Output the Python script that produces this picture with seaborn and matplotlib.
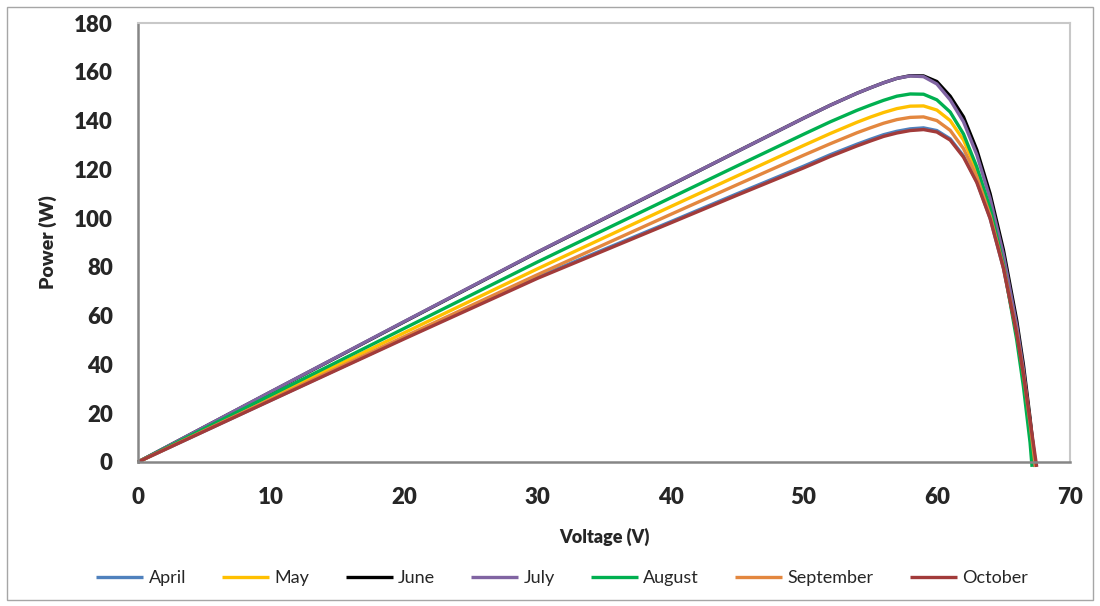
import matplotlib
matplotlib.use("Agg")
import matplotlib.pyplot as plt
import seaborn as sns
import pandas as pd
from matplotlib.patches import Rectangle

# ---- data ----
months = ["April", "May", "June", "July", "August", "September", "October"]
voltage = [0, 10, 20, 30, 40, 45, 50, 52, 54, 55, 56, 57, 58, 59, 60, 61, 62, 63, 64, 65, 66, 66.5, 67]

april = [0, 25.4, 50.8, 75.8, 98.5, 110, 121.3, 126, 130.3, 132.3, 134.2, 135.6, 136.6, 137, 135.9, 132.5, 125.5, 115, 100, 79.5, 52.5, 36, 16.5]
may = [0, 26.6, 53, 79.2, 104.7, 117.3, 129.8, 134.7, 139.3, 141.4, 143.3, 144.9, 145.9, 146, 144.3, 140, 132, 119.5, 103, 81, 53, 36, 15]
june = [0, 28.8, 57.5, 86, 113.5, 127.3, 141, 146.3, 151.2, 153.4, 155.5, 157.3, 158.4, 158.3, 156, 150, 141.5, 128, 110, 87, 58, 40, 18]
july = [0, 28.9, 57.6, 86.1, 113.6, 127.3, 141, 146.3, 151.2, 153.4, 155.5, 157.3, 158.3, 158, 155, 148.5, 139.5, 126, 108, 85, 56, 38, 16]
august = [0, 27.5, 54.8, 82, 108.3, 121.4, 134.4, 139.5, 144.2, 146.3, 148.3, 150, 150.9, 150.8, 148.5, 143.5, 134.5, 121, 104, 81, 50, 31, 8]
september = [0, 25.8, 51.4, 76.8, 101.5, 113.7, 125.8, 130.5, 135, 137, 138.9, 140.4, 141.3, 141.5, 140, 136, 128.5, 117, 101, 80, 53, 36, 16]
october = [0, 25.3, 50.5, 75.3, 98, 109.4, 120.6, 125.3, 129.6, 131.6, 133.5, 134.9, 135.9, 136.3, 135.3, 132, 125, 114.6, 99.8, 79.5, 52.5, 36, 17]

# open-circuit end points (voltage, power) where each curve crosses just below zero
end_voltage = [67.45, 67.35, 67.4, 67.35, 67.15, 67.4, 67.5]
end_power = [-2, -2, -2, -2, -2, -2, -2]

series = [april, may, june, july, august, september, october]
colors = ["#4F81BD", "#FFC000", "#000000", "#8064A2", "#00B050", "#E3873F", "#A23B3A"]

rows = []
for m, vals, ev, ep in zip(months, series, end_voltage, end_power):
    for v, p in zip(voltage + [ev], vals + [ep]):
        rows.append({"Voltage": v, "Power": p, "Month": m})
df = pd.DataFrame(rows)

# ---- figure ----
sns.set_theme(style="white")
plt.rcParams["font.family"] = ["Lato", "DejaVu Sans"]

fig = plt.figure(figsize=(11, 6.06), dpi=100)
ax = fig.add_axes([138 / 1100, 1 - 462 / 606, (1070 - 138) / 1100, (462 - 23) / 606])

sns.lineplot(data=df, x="Voltage", y="Power", hue="Month", hue_order=months,
             palette=dict(zip(months, colors)), sort=False, estimator=None,
             linewidth=2.4, ax=ax, legend=True)
for line in ax.get_lines():
    line.set_clip_on(False)
    line.set_solid_joinstyle("round")
    line.set_solid_capstyle("butt")

ax.set_xlim(0, 70)
ax.set_ylim(0, 180)
ax.set_xticks(range(0, 71, 10))
ax.set_yticks(range(0, 181, 20))
ax.tick_params(axis="both", length=0, labelsize=16, pad=18)
for lab in ax.get_xticklabels() + ax.get_yticklabels():
    lab.set_fontweight("heavy")

ax.set_xlabel("Voltage (V)", fontsize=13, fontweight="heavy", labelpad=14)
ax.set_ylabel("Power (W)", fontsize=14, fontweight="heavy", labelpad=12)

for s in ["left", "bottom"]:
    ax.spines[s].set_color("#868686")
    ax.spines[s].set_linewidth(1.8)
for s in ["top", "right"]:
    ax.spines[s].set_color("#C8C8C8")
    ax.spines[s].set_linewidth(1.5)
ax.grid(False)

handles, labels = ax.get_legend_handles_labels()
ax.get_legend().remove()
fig.legend(handles, labels, loc="center", bbox_to_anchor=(0.511, 1 - 578 / 606),
           ncol=7, frameon=False, fontsize=13, handlelength=2.6,
           columnspacing=2.0, handletextpad=0.3)

fig.add_artist(Rectangle((7 / 1100, 1 - 600 / 606), 1086 / 1100, 593 / 606,
                         transform=fig.transFigure, fill=False,
                         edgecolor="#A6A6A6", linewidth=1.0))

fig.savefig("out.png", dpi=100)
